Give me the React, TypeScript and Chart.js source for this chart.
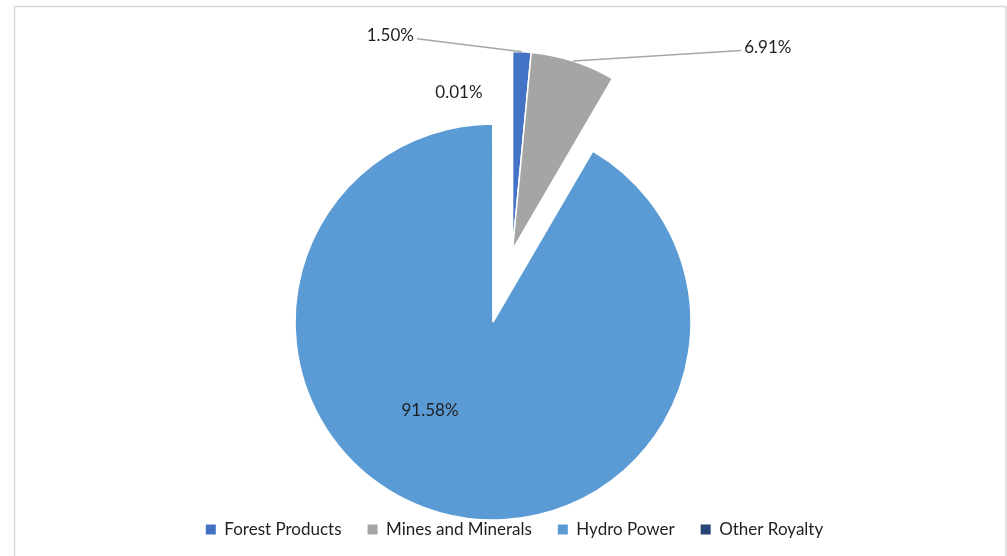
import React, { useEffect, useRef } from "react";
import { Chart, registerables } from "chart.js";

Chart.register(...registerables);

// ---- data ----
const categories = ["Forest Products", "Mines and Minerals", "Hydro Power", "Other Royalty"];
const shares = [1.5, 6.91, 91.58, 0.01];
const sliceColors = ["#4472C4", "#A5A5A5", "#5B9BD5", "#264478"];

// ---- style / layout config ----
const FONT = "Lato, 'Liberation Sans', sans-serif";
const PIE_RADIUS = 198;
const EXPLODE_GROUP = [0, 1];
const EXPLODE_DIST = 75;
const PIE_SHIFT_X = -21.5;
// label placement: 'leader' = offset of leader end from outer arc midpoint;
// 'arc' = offset of text centre from outer arc midpoint; 'center' = from pie centre
const LABEL_LAYOUT = [
  { kind: "leader", dx: -105, dy: -13, align: "right" },
  { kind: "leader", dx: 168, dy: -10.5, align: "left" },
  { kind: "center", dx: -63, dy: 89 },
  { kind: "arc", dx: -34, dy: -31 },
];

const framePlugin = {
  id: "frame",
  beforeDraw(chart: any) {
    const ctx = chart.ctx;
    ctx.save();
    ctx.fillStyle = "#ffffff";
    ctx.fillRect(0, 0, chart.width, chart.height);
    ctx.strokeStyle = "#d9d9d9";
    ctx.lineWidth = 1.5;
    ctx.strokeRect(14.5, 6.5, 991.5, chart.height + 20);
    ctx.restore();
  },
};

const shiftPlugin = {
  id: "pieShift",
  afterLayout(chart: any) {
    chart.chartArea.left += PIE_SHIFT_X;
    chart.chartArea.right += PIE_SHIFT_X;
  },
};

const explodePlugin = {
  id: "explode",
  afterDatasetsUpdate(chart: any) {
    const arcs = chart.getDatasetMeta(0).data;
    const first = arcs[EXPLODE_GROUP[0]];
    const last = arcs[EXPLODE_GROUP[EXPLODE_GROUP.length - 1]];
    const mid = (first.startAngle + last.endAngle) / 2;
    EXPLODE_GROUP.forEach((i) => {
      const a = arcs[i];
      a.x += Math.cos(mid) * EXPLODE_DIST;
      a.y += Math.sin(mid) * EXPLODE_DIST;
    });
  },
};

const labelPlugin = {
  id: "pieLabels",
  afterDatasetsDraw(chart: any) {
    const ctx = chart.ctx;
    const arcs = chart.getDatasetMeta(0).data;
    const base = arcs[2];
    const cx = base.x;
    const cy = base.y;
    ctx.save();
    ctx.font = `17px ${FONT}`;
    ctx.fillStyle = "#1f1f1f";
    ctx.textBaseline = "middle";
    arcs.forEach((arc: any, i: number) => {
      const spec = LABEL_LAYOUT[i];
      const text = shares[i].toFixed(2) + "%";
      const mid = (arc.startAngle + arc.endAngle) / 2;
      const ax = arc.x + Math.cos(mid) * arc.outerRadius;
      const ay = arc.y + Math.sin(mid) * arc.outerRadius;
      if (spec.kind === "leader") {
        const ex = ax + spec.dx;
        const ey = ay + spec.dy;
        ctx.strokeStyle = "#a6a6a6";
        ctx.lineWidth = 1.5;
        ctx.beginPath();
        ctx.moveTo(ax, ay);
        ctx.lineTo(ex, ey);
        ctx.stroke();
        if (spec.align === "right") {
          ctx.textAlign = "right";
          ctx.fillText(text, ex - 3, ey - 3.5);
        } else {
          ctx.textAlign = "left";
          ctx.fillText(text, ex + 3, ey - 3.5);
        }
      } else if (spec.kind === "arc") {
        ctx.textAlign = "center";
        ctx.fillText(text, ax + spec.dx, ay + spec.dy);
      } else {
        ctx.textAlign = "center";
        ctx.fillText(text, cx + spec.dx, cy + spec.dy);
      }
    });
    ctx.restore();
  },
};

export default function App() {
  const ref = useRef<HTMLCanvasElement | null>(null);
  useEffect(() => {
    if (!ref.current) return;
    const chart = new Chart(ref.current, {
      type: "pie",
      data: {
        labels: categories,
        datasets: [
          {
            data: shares,
            backgroundColor: sliceColors,
            borderColor: "#ffffff",
            borderWidth: 1.5,
          },
        ],
      },
      options: {
        responsive: false,
        animation: false,
        radius: PIE_RADIUS,
        layout: { padding: { left: 22, right: 0, top: 149, bottom: 8 } },
        plugins: {
          tooltip: { enabled: false },
          legend: {
            position: "bottom",
            labels: {
              boxWidth: 10,
              boxHeight: 10,
              padding: 26,
              color: "#1f1f1f",
              font: { family: FONT, size: 17 },
              generateLabels(c: any) {
                const items = Chart.overrides.pie.plugins.legend.labels.generateLabels(c);
                return items.map((it: any) => ({ ...it, lineWidth: 0, strokeStyle: "rgba(0,0,0,0)" }));
              },
            },
          },
        },
      } as any,
      plugins: [framePlugin, shiftPlugin, explodePlugin, labelPlugin],
    });
    return () => chart.destroy();
  }, []);
  return (
    <canvas
      ref={ref}
      width={1007}
      height={556}
      style={{ position: "fixed", left: 0, top: 0, width: 1007, height: 556, display: "block" }}
    />
  );
}
